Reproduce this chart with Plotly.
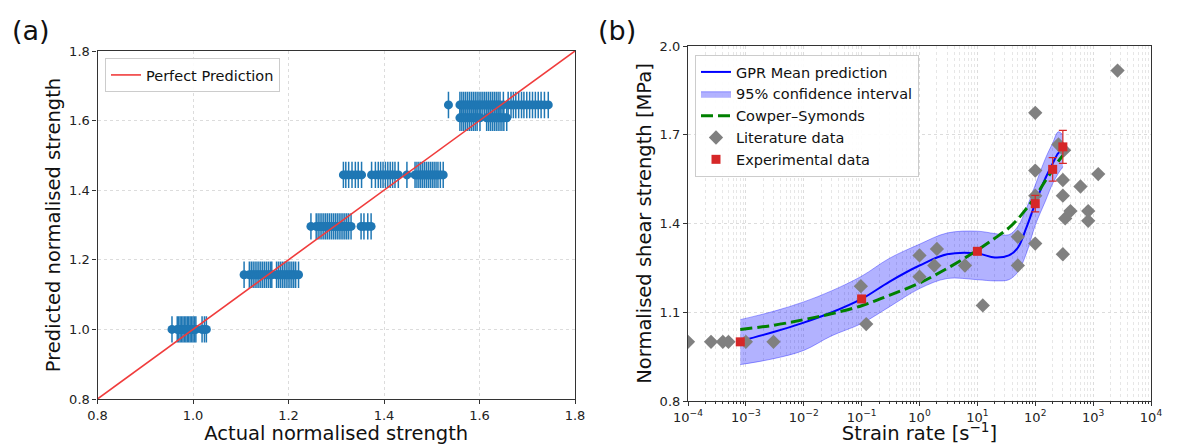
import plotly.graph_objects as go

# ---------------- Panel (a) data ----------------
g100_x = [0.956, 0.967, 0.970, 0.973, 0.976, 0.979, 0.982, 0.985, 0.988, 0.991, 0.994, 0.997, 1.000, 1.003, 1.006, 1.019, 1.024, 1.028]
g100_y = 1.000
g116_x = [1.107, 1.118, 1.122, 1.126, 1.130, 1.134, 1.138, 1.142, 1.146, 1.150, 1.154, 1.158, 1.162, 1.165,
          1.175, 1.179, 1.183, 1.187, 1.191, 1.195, 1.199, 1.203, 1.207, 1.211, 1.215, 1.221]
g116_y = 1.157
g130_x = [1.247, 1.258, 1.262, 1.266, 1.270, 1.274, 1.278, 1.282, 1.286, 1.290, 1.294, 1.298, 1.302, 1.306,
          1.310, 1.314, 1.318, 1.322, 1.326, 1.331, 1.352, 1.358, 1.366, 1.373]
g130_y = 1.296
g145_x = [1.315, 1.320, 1.326, 1.333, 1.340, 1.346, 1.353, 1.374, 1.382, 1.388, 1.393, 1.398, 1.403, 1.408,
          1.413, 1.418, 1.423, 1.430, 1.448, 1.465, 1.469, 1.473, 1.477, 1.481, 1.485, 1.489, 1.493, 1.497,
          1.501, 1.505, 1.509, 1.513, 1.518, 1.524]
g145_y = 1.444
g165_x = [1.535, 1.559, 1.563, 1.567, 1.571, 1.575, 1.579, 1.583, 1.587, 1.591, 1.595, 1.599, 1.603, 1.607,
          1.611, 1.615, 1.619, 1.623, 1.627, 1.631, 1.635, 1.639, 1.643, 1.650, 1.660, 1.666, 1.671, 1.676,
          1.682, 1.688, 1.693, 1.699, 1.705, 1.711, 1.717, 1.723, 1.729, 1.736, 1.744]
g165_y = 1.645
g161_x = [1.559, 1.563, 1.567, 1.571, 1.575, 1.579, 1.583, 1.587, 1.591, 1.595, 1.601,
          1.615, 1.619, 1.623, 1.627, 1.631, 1.635, 1.639, 1.643, 1.647, 1.651, 1.657]
g161_y = 1.608
pred_err = 0.038

groups = [(g100_x, g100_y), (g116_x, g116_y), (g130_x, g130_y), (g145_x, g145_y), (g165_x, g165_y), (g161_x, g161_y)]
actual = []
predicted = []
for gx, gy in groups:
    actual += gx
    predicted += [gy] * len(gx)

ideal = [0.8, 1.8]

# ---------------- Panel (b) data ----------------
curve_rate = [8e-4, 3e-3, 1e-2, 3e-2, 0.1, 0.3, 1, 3, 10, 20, 35, 50, 70, 100, 150, 200, 250, 300]
gpr_mean = [1.003, 1.033, 1.065, 1.099, 1.145, 1.203, 1.258, 1.296, 1.299, 1.285, 1.292, 1.318, 1.385, 1.468, 1.553, 1.603, 1.638, 1.648]
gpr_upper = [1.075, 1.103, 1.135, 1.172, 1.222, 1.282, 1.330, 1.368, 1.374, 1.366, 1.362, 1.390, 1.450, 1.530, 1.620, 1.672, 1.710, 1.700]
gpr_lower = [0.923, 0.943, 0.971, 1.020, 1.062, 1.118, 1.180, 1.214, 1.210, 1.206, 1.210, 1.236, 1.298, 1.394, 1.476, 1.535, 1.569, 1.592]
cs_fit = [1.042, 1.056, 1.075, 1.095, 1.122, 1.157, 1.199, 1.248, 1.310, 1.350, 1.385, 1.415, 1.450, 1.490, 1.545, 1.580, 1.610, 1.630]

lit_rate = [1e-4, 2.5e-4, 4e-4, 5e-4, 1e-3, 3e-3, 0.097, 0.12, 1, 1, 1.8, 2, 6.1, 12.4, 50, 50,
            100, 100, 100, 100, 252, 300, 300, 300, 329, 315, 406, 605, 822, 822, 1225, 2643]
lit_str = [1.0, 1.0, 1.0, 1.0, 1.0, 1.0, 1.188, 1.06, 1.292, 1.22, 1.258, 1.314, 1.258, 1.123, 1.355, 1.258,
           1.774, 1.579, 1.494, 1.332, 1.667, 1.547, 1.494, 1.296, 1.417, 1.648, 1.442, 1.525, 1.442, 1.409, 1.567, 1.917]

exp_rate = [8e-4, 0.1, 10, 100, 200, 300]
exp_str = [1.0, 1.145, 1.306, 1.467, 1.583, 1.659]
exp_err = [0.005, 0.008, 0.008, 0.028, 0.04, 0.056]

rate_ticks = [1e-4, 1e-3, 1e-2, 1e-1, 1, 1e1, 1e2, 1e3, 1e4]
rate_tick_text = ["10<sup>−4</sup>", "10<sup>−3</sup>", "10<sup>−2</sup>", "10<sup>−1</sup>", "10<sup>0</sup>",
                  "10<sup>1</sup>", "10<sup>2</sup>", "10<sup>3</sup>", "10<sup>4</sup>"]
str_ticks_a = [0.8, 1.0, 1.2, 1.4, 1.6, 1.8]
str_ticks_b = [0.8, 1.1, 1.4, 1.7, 2.0]

# minor tick positions on the log axis (2..9 in each decade)
minor_rate = [m * d for d in rate_ticks[:-1] for m in range(2, 10)]

W, H = 1193, 445
FONT = "DejaVu Sans"

fig = go.Figure()

# Panel (a)
fig.add_trace(go.Scatter(
    x=actual, y=predicted, mode="markers",
    marker=dict(symbol="circle", size=9, color="#1f77b4"),
    error_y=dict(type="constant", value=pred_err, color="#1f77b4", thickness=1.5, width=0),
    showlegend=False, xaxis="x", yaxis="y"))
fig.add_trace(go.Scatter(
    x=ideal, y=ideal, mode="lines", line=dict(color="#f03c3c", width=1.6),
    name="Perfect Prediction", legend="legend", xaxis="x", yaxis="y"))

# Panel (b)
fig.add_trace(go.Scatter(
    x=curve_rate, y=gpr_mean, mode="lines", line=dict(color="#0000ff", width=2, shape="spline"),
    name="GPR Mean prediction", legend="legend2", xaxis="x2", yaxis="y2"))
fig.add_trace(go.Scatter(
    x=curve_rate, y=gpr_lower, mode="lines", line=dict(color="rgba(0,0,255,0.35)", width=1, shape="spline"),
    showlegend=False, legend="legend2", xaxis="x2", yaxis="y2"))
fig.add_trace(go.Scatter(
    x=curve_rate, y=gpr_upper, mode="lines", line=dict(color="rgba(0,0,255,0.35)", width=1, shape="spline"),
    fill="tonexty", fillcolor="rgba(0,0,255,0.3)",
    name="95% confidence interval", legend="legend2", xaxis="x2", yaxis="y2"))
fig.add_trace(go.Scatter(
    x=curve_rate, y=cs_fit, mode="lines", line=dict(color="#008000", width=3, dash="12px,5px", shape="spline"),
    name="Cowper–Symonds", legend="legend2", xaxis="x2", yaxis="y2"))
fig.add_trace(go.Scatter(
    x=lit_rate, y=lit_str, mode="markers",
    marker=dict(symbol="diamond", size=11, color="#808080"),
    name="Literature data", legend="legend2", xaxis="x2", yaxis="y2"))
fig.add_trace(go.Scatter(
    x=exp_rate, y=exp_str, mode="markers",
    marker=dict(symbol="square", size=9, color="#d62728"),
    error_y=dict(type="data", array=exp_err, color="#d62728", thickness=1.2, width=4),
    name="Experimental data", legend="legend2", xaxis="x2", yaxis="y2"))

axis_common = dict(showline=True, mirror=True, linecolor="#333333", linewidth=1.2,
                   ticks="outside", ticklen=4, tickcolor="#333333", automargin=False,
                   tickfont=dict(family=FONT, size=13, color="#222"),
                   showgrid=True, gridcolor="#dcdcdc", griddash="dot", gridwidth=1, zeroline=False)

fig.update_layout(
    width=W, height=H, margin=dict(l=0, r=0, t=0, b=0),
    paper_bgcolor="white", plot_bgcolor="white",
    font=dict(family=FONT, color="#111"),
    xaxis=dict(domain=[97.5 / W, 575 / W], range=[0.8, 1.8], tickvals=str_ticks_a,
               ticktext=[f"{v:.1f}" for v in str_ticks_a], anchor="y",
               title=dict(text="Actual normalised strength", font=dict(family=FONT, size=19.5), standoff=6),
               **axis_common),
    yaxis=dict(domain=[(H - 399) / H, (H - 51) / H], range=[0.8, 1.8], tickvals=str_ticks_a,
               ticktext=[f"{v:.1f}" for v in str_ticks_a], anchor="x",
               title=dict(text="Predicted normalised strength", font=dict(family=FONT, size=19.5), standoff=3),
               **axis_common),
    xaxis2=dict(domain=[688 / W, 1151 / W], type="log", range=[-4, 4], tickvals=rate_ticks,
                ticktext=rate_tick_text, anchor="y2",
                minor=dict(tickvals=minor_rate, showgrid=True, gridcolor="#e6e6e6", griddash="dot",
                           ticks="outside", ticklen=2, tickcolor="#333333"),
                title=dict(text="Strain rate [s<sup>−1</sup>]", font=dict(family=FONT, size=19.5), standoff=6),
                **axis_common),
    yaxis2=dict(domain=[(H - 401) / H, (H - 46) / H], range=[0.8, 2.0], tickvals=str_ticks_b,
                ticktext=[f"{v:.1f}" for v in str_ticks_b], anchor="x2",
                title=dict(text="Normalised shear strength [MPa]", font=dict(family=FONT, size=19.5), standoff=2),
                **axis_common),
    legend=dict(x=105 / W, y=(H - 58) / H, xanchor="left", yanchor="top",
                bgcolor="rgba(255,255,255,0.9)", bordercolor="#cccccc", borderwidth=1,
                font=dict(family=FONT, size=14.5, color="#111")),
    legend2=dict(x=695 / W, y=(H - 55) / H, xanchor="left", yanchor="top", traceorder="normal",
                 bgcolor="rgba(255,255,255,0.9)", bordercolor="#cccccc", borderwidth=1,
                 font=dict(family=FONT, size=14.5, color="#111"), tracegroupgap=0),
    annotations=[
        dict(text="(a)", x=10 / W, y=(H - 30) / H, xref="paper", yref="paper", xanchor="left", yanchor="middle",
             showarrow=False, font=dict(family=FONT, size=27, color="#111")),
        dict(text="(b)", x=596 / W, y=(H - 30) / H, xref="paper", yref="paper", xanchor="left", yanchor="middle",
             showarrow=False, font=dict(family=FONT, size=27, color="#111")),
    ],
)

fig.write_html("out.html")
